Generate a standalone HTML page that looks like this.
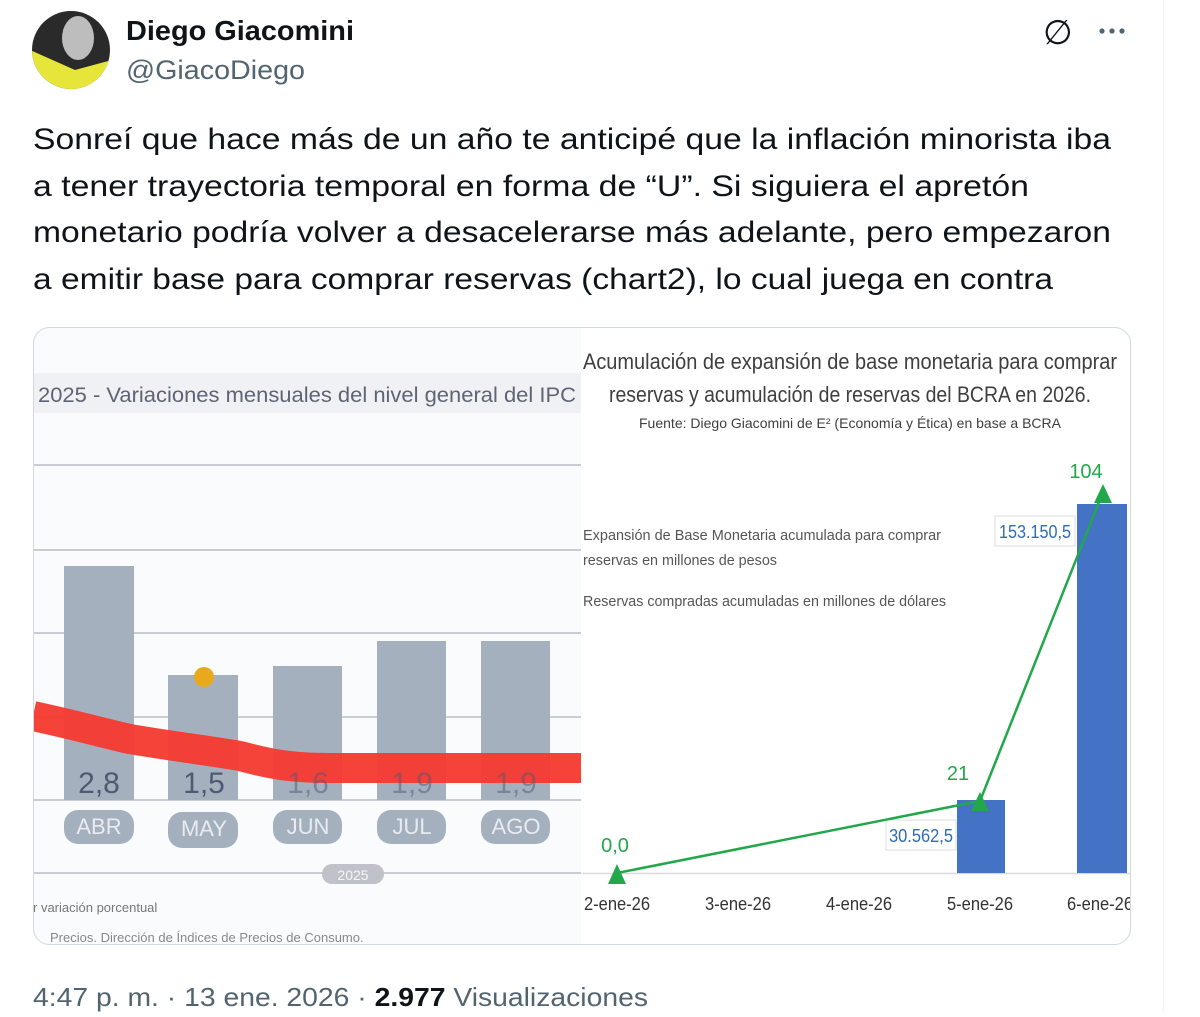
<!DOCTYPE html>
<html><head><meta charset="utf-8"><style>
body{margin:0;background:#fff;width:1200px;height:1012px;overflow:hidden;font-family:"Liberation Sans",sans-serif}
</style></head><body>
<svg width="1200" height="1012" xmlns="http://www.w3.org/2000/svg" font-family="Liberation Sans, sans-serif">
<rect width="1200" height="1012" fill="#fff"/>
<line x1="1163.5" y1="0" x2="1163.5" y2="1012" stroke="#eff3f4" stroke-width="1"/>
<clipPath id="av"><circle cx="71" cy="50" r="39"/></clipPath>
<g clip-path="url(#av)">
<rect x="30" y="10" width="82" height="82" fill="#2a2a2a"/>
<polygon points="30,50 75,70 112,60 112,92 30,92" fill="#e6e63a"/>
<ellipse cx="78" cy="38" rx="16" ry="22" fill="#bdbdbd"/>
</g>
<text x="126" y="40" font-size="28" font-weight="bold" fill="#0f1419" textLength="228" lengthAdjust="spacingAndGlyphs">Diego Giacomini</text>
<text x="126" y="79" font-size="27" fill="#536471" textLength="179" lengthAdjust="spacingAndGlyphs">@GiacoDiego</text>
<text x="1043" y="44" font-size="34" fill="#0f1419">∅</text>
<g fill="#536471"><circle cx="1102" cy="31" r="2.6"/><circle cx="1112" cy="31" r="2.6"/><circle cx="1122" cy="31" r="2.6"/></g>
<g font-size="30" fill="#0f1419">
<text x="33" y="149" textLength="1078" lengthAdjust="spacingAndGlyphs">Sonreí que hace más de un año te anticipé que la inflación minorista iba</text>
<text x="33" y="196" textLength="996" lengthAdjust="spacingAndGlyphs">a tener trayectoria temporal en forma de “U”. Si siguiera el apretón</text>
<text x="33" y="242" textLength="1078" lengthAdjust="spacingAndGlyphs">monetario podría volver a desacelerarse más adelante, pero empezaron</text>
<text x="33" y="289" textLength="1020" lengthAdjust="spacingAndGlyphs">a emitir base para comprar reservas (chart2), lo cual juega en contra</text>
</g>
<clipPath id="card"><rect x="33" y="327" width="1098" height="618" rx="16"/></clipPath>
<g clip-path="url(#card)">
<rect x="33" y="327" width="548" height="618" fill="#fafbfc"/>
<rect x="33" y="373" width="548" height="40" fill="#f0f1f4"/>
<text x="38" y="402" font-size="21" fill="#5f6475" textLength="538" lengthAdjust="spacingAndGlyphs">2025 - Variaciones mensuales del nivel general del IPC</text>
<g stroke="#c9ccd2" stroke-width="2"><line x1="33" y1="465" x2="581" y2="465"/><line x1="33" y1="550" x2="581" y2="550"/><line x1="33" y1="633" x2="581" y2="633"/><line x1="33" y1="717" x2="581" y2="717"/><line x1="33" y1="800" x2="581" y2="800"/><line x1="33" y1="873" x2="581" y2="873"/></g>
<g fill="#a5b0bf">
<rect x="64" y="566" width="70" height="234"/><rect x="168" y="675" width="70" height="125"/><rect x="273" y="666" width="69" height="134"/><rect x="377" y="641" width="69" height="159"/><rect x="481" y="641" width="69" height="159"/>
<rect x="64" y="810" width="70" height="34" rx="14"/><rect x="168" y="812" width="70" height="36" rx="14"/><rect x="273" y="810" width="69" height="34" rx="14"/><rect x="377" y="810" width="69" height="34" rx="14"/><rect x="481" y="810" width="69" height="34" rx="14"/>
</g>
<circle cx="204" cy="677" r="10" fill="#e9a91c"/>
<path d="M33,716 C80,726 110,735 130,739 C170,746 205,750 240,756 C270,764 290,768 330,768 L581,768" fill="none" stroke="#f6392f" stroke-width="30" opacity="0.95"/>
<g font-size="30" fill="#4e5a72" text-anchor="middle"><text x="99" y="793">2,8</text><text x="204" y="793">1,5</text></g>
<g font-size="30" fill="#4e5a72" text-anchor="middle" opacity="0.5"><text x="308" y="793">1,6</text><text x="412" y="793">1,9</text><text x="516" y="793">1,9</text></g>
<g font-size="22" fill="#e8ebf0" text-anchor="middle"><text x="99" y="834">ABR</text><text x="204" y="836">MAY</text><text x="308" y="834">JUN</text><text x="412" y="834">JUL</text><text x="516" y="834">AGO</text></g>
<rect x="322" y="864" width="62" height="20" rx="10" fill="#bfc3c9"/>
<text x="353" y="880" font-size="14" fill="#f4f4f4" text-anchor="middle">2025</text>
<text x="33" y="912" font-size="13" fill="#777">r variación porcentual</text>
<text x="50" y="942" font-size="13" fill="#888">Precios. Dirección de Índices de Precios de Consumo.</text>
<rect x="581" y="327" width="550" height="618" fill="#fff"/>
<g fill="#3f3f3f" text-anchor="middle">
<text x="850" y="369" font-size="22" textLength="534" lengthAdjust="spacingAndGlyphs">Acumulación de expansión de base monetaria para comprar</text>
<text x="850" y="402" font-size="22" textLength="482" lengthAdjust="spacingAndGlyphs">reservas y acumulación de reservas del BCRA en 2026.</text>
<text x="850" y="428" font-size="14" textLength="422" lengthAdjust="spacingAndGlyphs">Fuente: Diego Giacomini de E² (Economía y Ética) en base a BCRA</text>
</g>
<g fill="#555" font-size="15">
<text x="583" y="540" textLength="358" lengthAdjust="spacingAndGlyphs">Expansión de Base Monetaria acumulada para comprar</text>
<text x="583" y="565" textLength="194" lengthAdjust="spacingAndGlyphs">reservas en millones de pesos</text>
<text x="583" y="606" textLength="363" lengthAdjust="spacingAndGlyphs">Reservas compradas acumuladas en millones de dólares</text>
</g>
<line x1="583" y1="873.5" x2="1131" y2="873.5" stroke="#d9d9d9" stroke-width="1.5"/>
<rect x="957" y="800" width="48" height="73" fill="#4472c4"/>
<rect x="1077" y="504" width="50" height="369" fill="#4472c4"/>
<rect x="995" y="516" width="80" height="30" fill="#fff" stroke="#ddd"/>
<text x="1035" y="538" font-size="18" fill="#2e6db5" text-anchor="middle" textLength="72" lengthAdjust="spacingAndGlyphs">153.150,5</text>
<rect x="886" y="820" width="70" height="30" fill="#fff" stroke="#ddd"/>
<text x="921" y="842" font-size="18" fill="#2e6db5" text-anchor="middle" textLength="64" lengthAdjust="spacingAndGlyphs">30.562,5</text>
<polyline points="617,873 980,801 1103,492" fill="none" stroke="#22a84a" stroke-width="2.5"/>
<g fill="#22a84a"><polygon points="617,864 608,884 626,884"/><polygon points="980,792 971,811 989,811"/><polygon points="1103,484 1094,503 1112,503"/></g>
<g fill="#22a84a" font-size="20" text-anchor="middle"><text x="615" y="852">0,0</text><text x="958" y="780">21</text><text x="1086" y="478">104</text></g>
<g fill="#333" font-size="18" text-anchor="middle"><text x="617" y="910" textLength="66" lengthAdjust="spacingAndGlyphs">2-ene-26</text><text x="738" y="910" textLength="66" lengthAdjust="spacingAndGlyphs">3-ene-26</text><text x="859" y="910" textLength="66" lengthAdjust="spacingAndGlyphs">4-ene-26</text><text x="980" y="910" textLength="66" lengthAdjust="spacingAndGlyphs">5-ene-26</text><text x="1100" y="910" textLength="66" lengthAdjust="spacingAndGlyphs">6-ene-26</text></g>
</g>
<rect x="33.5" y="327.5" width="1097" height="617" rx="16" fill="none" stroke="#cfd9de"/>
<text x="33" y="1006" font-size="26" fill="#536471" textLength="615" lengthAdjust="spacingAndGlyphs">4:47 p. m. · 13 ene. 2026 · <tspan font-weight="bold" fill="#0f1419">2.977</tspan> Visualizaciones</text>
</svg>
</body></html>
